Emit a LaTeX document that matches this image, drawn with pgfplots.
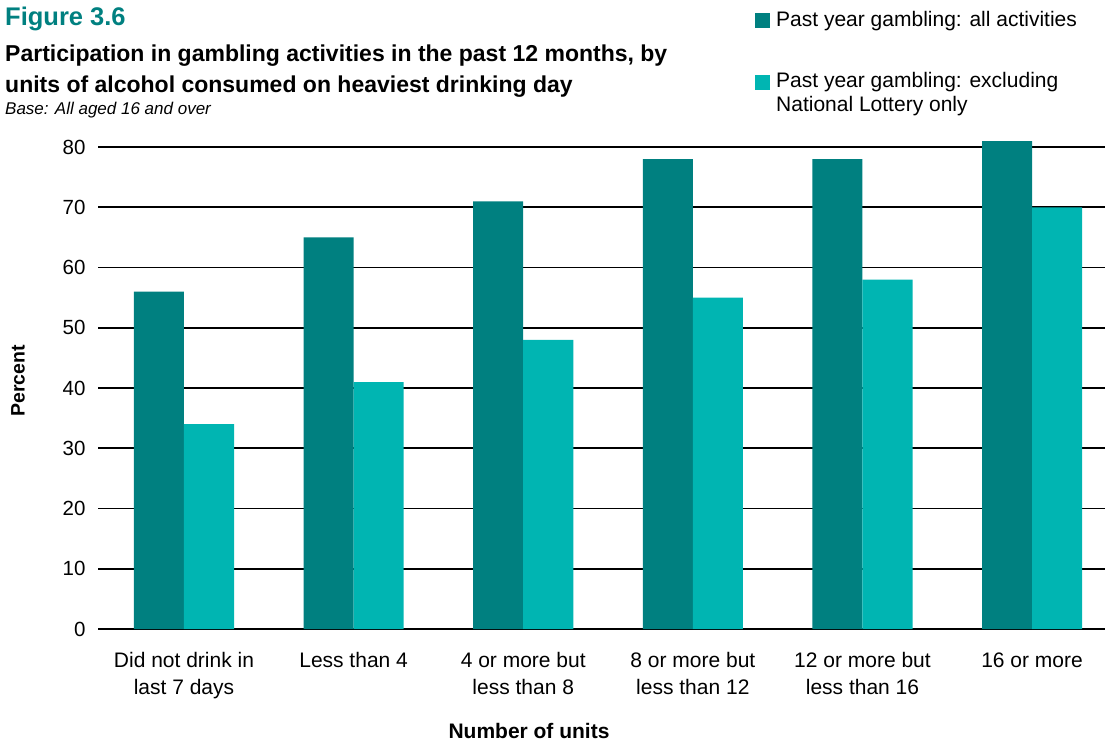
\documentclass[border=0pt]{standalone}
\usepackage{fontspec}
\setmainfont{Liberation Sans}
\usepackage{pgfplots}
\pgfplotsset{compat=1.18}
\definecolor{darkteal}{RGB}{0,128,128}
\definecolor{lightteal}{RGB}{0,181,178}
\begin{document}
\begin{tikzpicture}[x=1pt,y=1pt]
\useasboundingbox (0,0) rectangle (1107,742);
\begin{axis}[
  at={(98pt,113pt)}, anchor=south west,
  scale only axis, width=1007pt, height=494pt,
  xmin=-0.507, xmax=5.43, ymin=0, ymax=82,
  axis line style={draw=none},
  major tick length=0pt,
  ybar, bar width=0.295,
  ytick={0,10,...,80},
  ymajorgrids, grid style={black, line width=1.6pt},
  xtick={0,1,2,3,4,5},
  xticklabels={{Did not drink in\\last 7 days},{Less than 4},{4 or more but\\less than 8},{8 or more but\\less than 12},{12 or more but\\less than 16},{16 or more}},
  xticklabel style={align=center, font=\fontsize{21}{27}\selectfont, yshift=-20pt},
  yticklabel style={font=\fontsize{20.5}{22}\selectfont, xshift=-9pt},
  /pgf/number format/assume math mode=true,
]
\addplot[fill=darkteal, draw=none, bar shift=-0.1475] coordinates {(0,56) (1,65) (2,71) (3,78) (4,78) (5,81)};
\addplot[fill=lightteal, draw=none, bar shift=0.1475] coordinates {(0,34) (1,41) (2,48) (3,55) (4,58) (5,70)};
\end{axis}
% titles
\node[anchor=base west, inner sep=0, text=darkteal, font=\bfseries\fontsize{25.5}{30}\selectfont] at (5,716) {Figure 3.6};
\node[anchor=base west, inner sep=0, font=\bfseries\fontsize{23}{28}\selectfont] at (5,680) {Participation in gambling activities in the past 12 months, by};
\node[anchor=base west, inner sep=0, font=\bfseries\fontsize{23}{28}\selectfont] at (5,649) {units of alcohol consumed on heaviest drinking day};
\node[anchor=base west, inner sep=0, font=\itshape\fontsize{17}{20}\selectfont] at (5,627) {Base: All aged 16 and over};
% legend
\fill[darkteal] (755,714) rectangle (770,729);
\node[anchor=base west, inner sep=0, font=\fontsize{21}{24}\selectfont] at (776,715) {Past year gambling: all activities};
\fill[lightteal] (755,652) rectangle (770,667);
\node[anchor=base west, inner sep=0, font=\fontsize{21}{24}\selectfont] at (776,654) {Past year gambling: excluding};
\node[anchor=base west, inner sep=0, font=\fontsize{21}{24}\selectfont] at (776,630) {National Lottery only};
% axis labels
\node[rotate=90, font=\bfseries\fontsize{19.5}{22}\selectfont] at (18,361) {Percent};
\node[anchor=base, inner sep=0, font=\bfseries\fontsize{21}{24}\selectfont] at (529,4) {Number of units};
\end{tikzpicture}
\end{document}
